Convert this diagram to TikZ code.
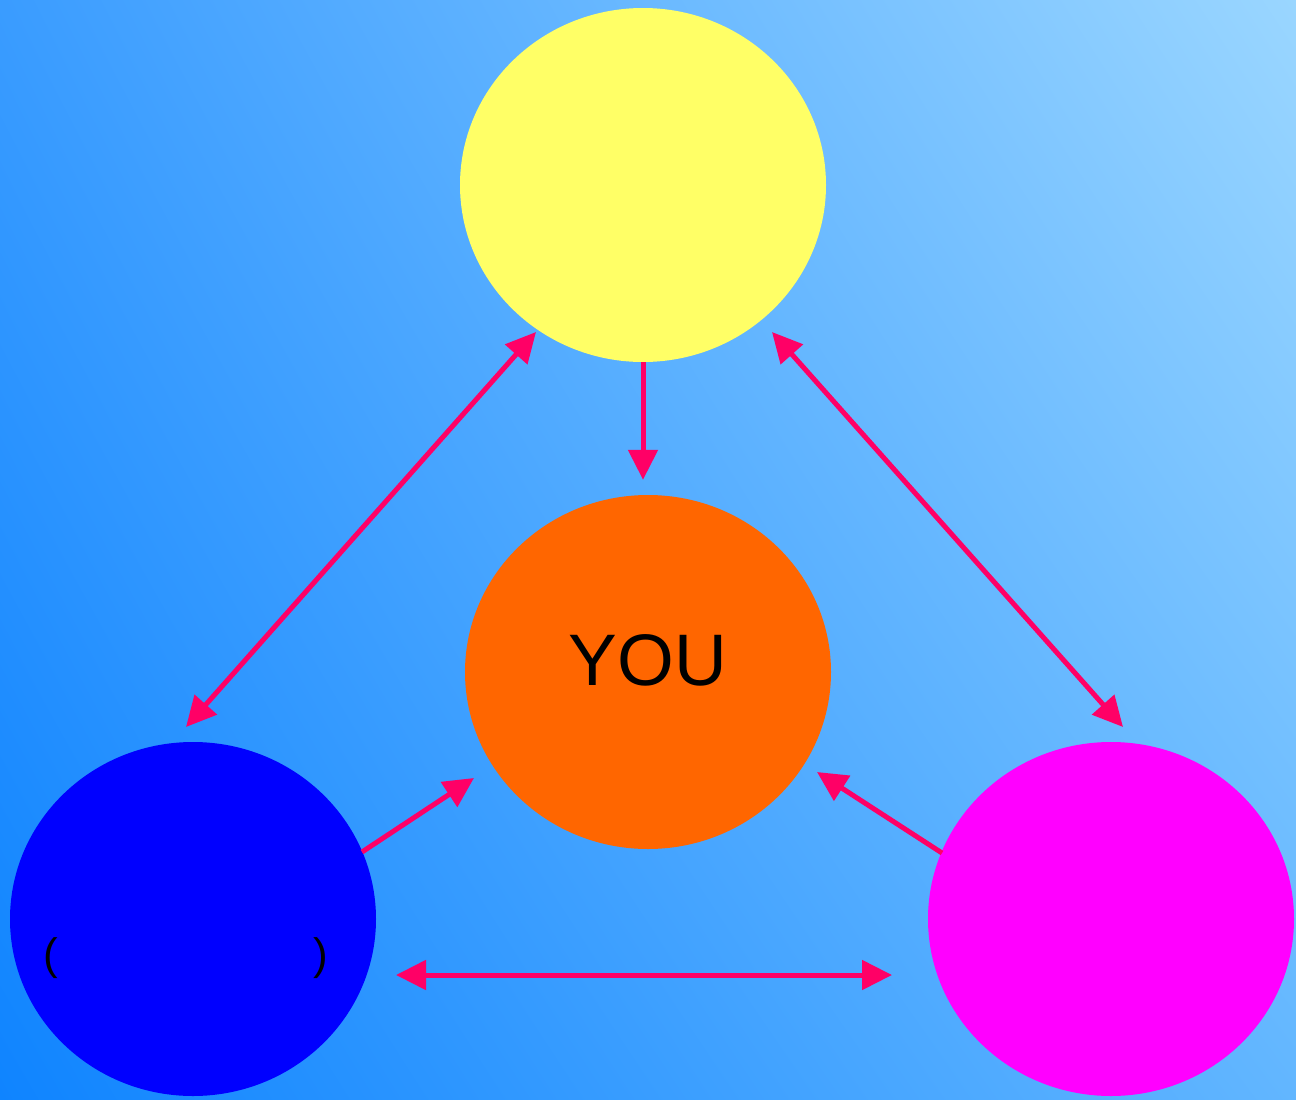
\documentclass[tikz,border=0pt]{standalone}
\usepackage{fontspec}
\setmainfont{Liberation Sans}
\usetikzlibrary{positioning,arrows.meta,calc,shapes.geometric,shadings}
\definecolor{skydeep}{HTML}{0F84FF}
\definecolor{skymid}{HTML}{3A9CFF}
\definecolor{skysoft}{HTML}{62B6FF}
\definecolor{skypale}{HTML}{9AD6FF}
\definecolor{sun}{HTML}{FFFF66}
\definecolor{ember}{HTML}{FF6600}
\definecolor{royal}{HTML}{0000FF}
\definecolor{fuchsia}{HTML}{FF00FF}
\definecolor{rosered}{HTML}{FF0066}

\begin{document}
\begin{tikzpicture}[x=1pt,y=-1pt,
   blob/.style={ellipse,draw=none,minimum width=366pt,minimum height=354pt,inner sep=0pt},
   link/.style={draw=rosered,line width=5pt,-{Triangle[length=30pt,width=29pt]}},
   both/.style={link,{Triangle[length=30pt,width=29pt]}-{Triangle[length=30pt,width=29pt]}}]
 \useasboundingbox (0,0) rectangle (1296,1100);
 \shade[upper left=skymid,upper right=skypale,lower left=skydeep,lower right=skysoft]
   (0,0) rectangle (1296,1100);
 \node[blob,fill=sun] (yel) at (643,185) {};
 \node[blob,fill=ember] (you) at (648,672) {};
 \node[blob,fill=royal] (blu) at (193,919) {};
 \node[blob,fill=fuchsia] (mag) at (1111,919) {};
 \node[font=\fontsize{73}{80}\selectfont,inner sep=0pt,anchor=base] (youtxt) at ($(you)+(0,13)$) {YOU};
 \node[font=\fontsize{44}{48}\selectfont,inner sep=0pt] (blutxt) at ($(blu)+(-7,39.5)$) {(\hspace{255pt})};
 \draw[link,shorten >=15pt] (yel.south) -- (yel.south |- you.north);
 \draw[both] ($(yel)+(-107,147)$) -- ($(blu)+(-7,-192)$);
 \draw[both] ($(yel)+(129,147)$) -- ($(mag)+(12,-192)$);
 \draw[link] ($(blu)+(169,-67)$) -- ($(you)+(-174,106)$);
 \draw[link] ($(mag)+(-169,-66)$) -- ($(you)+(169,100)$);
 \draw[both] ($(blu)+(203,56)$) -- ($(mag)+(-219,56)$);
\end{tikzpicture}
\end{document}
